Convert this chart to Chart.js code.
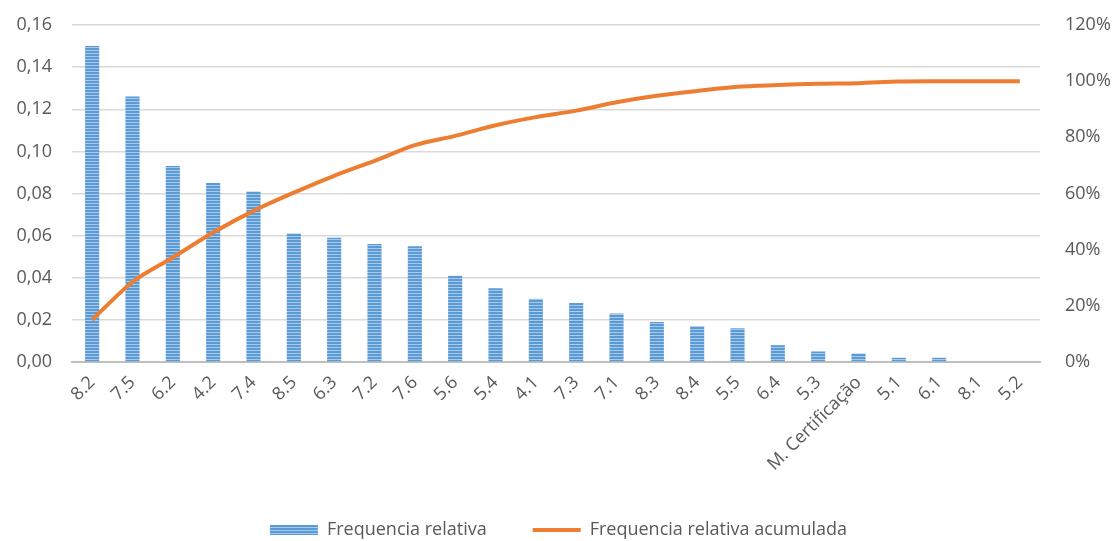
<!DOCTYPE html>
<html>
<head>
<meta charset="utf-8">
<script src="https://cdn.jsdelivr.net/npm/chart.js@4"></script>
<style>
  html, body { margin: 0; padding: 0; background: #fff; }
  #wrap { width: 1117px; height: 541px; }
</style>
</head>
<body>
<div id="wrap"><canvas id="chart"></canvas></div>
<script>
const categories = ['8.2', '7.5', '6.2', '4.2', '7.4', '8.5', '6.3', '7.2', '7.6', '5.6', '5.4', '4.1',
    '7.3', '7.1', '8.3', '8.4', '5.5', '6.4', '5.3', 'M. Certificação', '5.1', '6.1', '8.1', '5.2'];
const freq_relativa = [0.150, 0.126, 0.093, 0.085, 0.081, 0.061, 0.059, 0.056, 0.055, 0.041, 0.035, 0.030,
    0.028, 0.023, 0.019, 0.017, 0.016, 0.008, 0.005, 0.004, 0.002, 0.002, 0, 0];
const freq_acumulada = [0.150, 0.285, 0.372, 0.461, 0.538, 0.603, 0.663, 0.716, 0.772, 0.805, 0.843, 0.872,
    0.895, 0.925, 0.948, 0.965, 0.980, 0.986, 0.991, 0.993, 0.999, 1.000, 1.000, 1.000];
const left_ticks = [0, 0.02, 0.04, 0.06, 0.08, 0.10, 0.12, 0.14, 0.16];
const right_ticks = [0, 0.2, 0.4, 0.6, 0.8, 1.0, 1.2];

function stripe_pattern() {
    const c = document.createElement('canvas');
    c.width = 4;
    c.height = 3;
    const g = c.getContext('2d');
    g.fillStyle = '#5b9bd5';
    g.fillRect(0, 0, 4, 3);
    g.fillStyle = '#a8c9ea';
    g.fillRect(0, 2, 4, 1);
    return g.createPattern(c, 'repeat');
}

function no_padding(axis) {
    axis.paddingTop = 0;
    axis.paddingBottom = 0;
    axis.paddingLeft = 0;
    axis.paddingRight = 0;
}

const font = { family: "'Open Sans', sans-serif", size: 18 };
const grey = '#595959';
const stripes = stripe_pattern();
const legend_gap = 46;

// legend items sit far apart, so keep its box short and put it back at the bottom
const legend_position = {
    id: 'legend_position',
    afterLayout(chart) {
        const lg = chart.legend;
        lg.top = 530 - legend_gap - 9;
        lg.bottom = chart.height;
    }
};

new Chart(document.getElementById('chart'), {
    data: {
        labels: categories,
        datasets: [
            {
                type: 'line',
                label: 'Frequencia relativa acumulada',
                data: freq_acumulada,
                yAxisID: 'y2',
                borderColor: '#ed7d31',
                backgroundColor: '#ed7d31',
                borderWidth: 4,
                pointRadius: 0,
                tension: 0.3,
                pointStyle: 'line',
                order: 0
            },
            {
                type: 'bar',
                label: 'Frequencia relativa',
                data: freq_relativa,
                yAxisID: 'y',
                backgroundColor: stripes,
                borderWidth: 0,
                barPercentage: 0.35,
                categoryPercentage: 1.0,
                pointStyle: 'rect',
                order: 1
            }
        ]
    },
    plugins: [legend_position],
    options: {
        responsive: true,
        maintainAspectRatio: false,
        animation: false,
        layout: { padding: { left: 0, right: 0, top: 25, bottom: 0 } },
        plugins: {
            tooltip: { enabled: false },
            legend: {
                position: 'bottom',
                reverse: true,
                maxHeight: 31,
                labels: {
                    usePointStyle: true,
                    pointStyleWidth: 48,
                    boxHeight: 10,
                    padding: legend_gap,
                    color: grey,
                    font: font
                }
            }
        },
        scales: {
            x: {
                grid: { display: false },
                border: { color: '#bfbfbf', width: 2 },
                afterFit: axis => { axis.height = 148; no_padding(axis); },
                ticks: { color: grey, font: font, minRotation: 45, maxRotation: 45, padding: 2 }
            },
            y: {
                position: 'left',
                min: 0,
                max: 0.16,
                afterBuildTicks: axis => { axis.ticks = left_ticks.map(v => ({ value: v })); },
                afterFit: axis => { axis.width = 72; no_padding(axis); },
                grid: { color: '#d9d9d9', lineWidth: 1.5, drawTicks: false },
                border: { display: false },
                ticks: {
                    color: grey,
                    font: font,
                    padding: 20,
                    callback: v => v.toFixed(2).replace('.', ',')
                }
            },
            y2: {
                position: 'right',
                min: 0,
                max: 1.2,
                afterBuildTicks: axis => { axis.ticks = right_ticks.map(v => ({ value: v })); },
                afterFit: axis => { axis.width = 77; no_padding(axis); },
                grid: { display: false, drawTicks: false },
                border: { display: false },
                ticks: {
                    color: grey,
                    font: font,
                    padding: 25,
                    callback: v => Math.round(v * 100) + '%'
                }
            }
        }
    }
});
</script>
</body>
</html>
